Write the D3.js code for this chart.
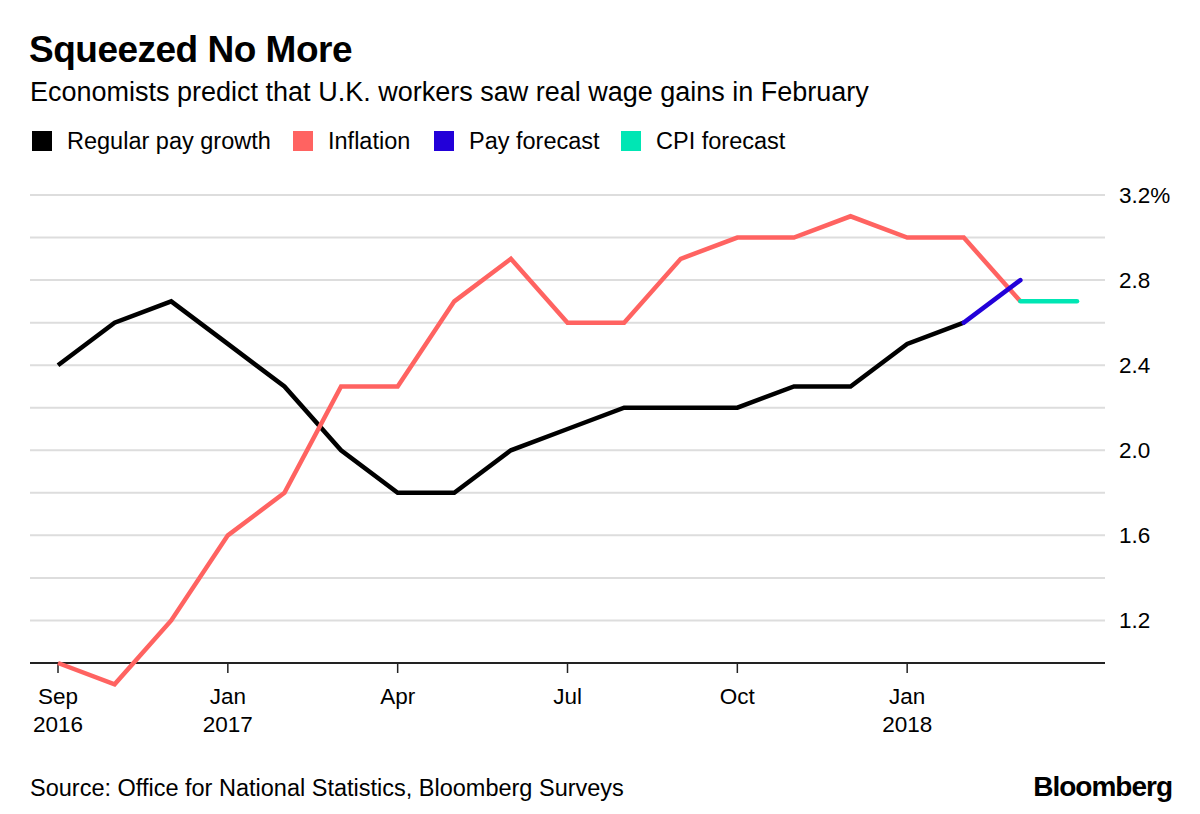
<!DOCTYPE html>
<html>
<head>
<meta charset="utf-8">
<script src="https://cdn.jsdelivr.net/npm/d3@7"></script>
<style>
  html, body { margin: 0; padding: 0; background: #fff; }
  svg { display: block; font-family: "Liberation Sans", Arial, Helvetica, sans-serif; }
</style>
</head>
<body>
<svg id="chart" width="1200" height="814"></svg>
<script>
// ---- Data ----
const monthIndex = d3.range(0, 19); // Sep 2016 ... Mar 2018 slots
const payGrowth = [2.4, 2.6, 2.7, 2.5, 2.3, 2.0, 1.8, 1.8, 2.0, 2.1, 2.2, 2.2, 2.2, 2.3, 2.3, 2.5, 2.6];
const inflation = [1.0, 0.9, 1.2, 1.6, 1.8, 2.3, 2.3, 2.7, 2.9, 2.6, 2.6, 2.9, 3.0, 3.0, 3.1, 3.0, 3.0, 2.7];
const payForecast = [[16, 2.6], [17, 2.8]];
const cpiForecast = [[17, 2.7], [18, 2.7]];
const xTickIdx = [0, 3, 6, 9, 12, 15];
const xTickLabels = [["Sep", "2016"], ["Jan", "2017"], ["Apr", ""], ["Jul", ""], ["Oct", ""], ["Jan", "2018"]];
const yGrid = [1.2, 1.4, 1.6, 1.8, 2.0, 2.2, 2.4, 2.6, 2.8, 3.0, 3.2];
const yLabelTicks = [1.2, 1.6, 2.0, 2.4, 2.8, 3.2];
const seriesNames = ["Regular pay growth", "Inflation", "Pay forecast", "CPI forecast"];
const seriesColors = ["#000000", "#ff6361", "#2200d9", "#00e6b4"];

// ---- Layout ----
const svg = d3.select("#chart");
const x = d3.scaleLinear().domain([0, 18]).range([58, 1077]);
const y = d3.scaleLinear().domain([1.0, 3.2]).range([663, 195]);
const plotLeft = 30, plotRight = 1105;

// Title / subtitle
svg.append("text").attr("x", 29).attr("y", 62)
  .attr("font-size", 37).attr("font-weight", "bold").attr("fill", "#000")
  .attr("letter-spacing", -0.5)
  .text("Squeezed No More");
svg.append("text").attr("x", 30).attr("y", 101)
  .attr("font-size", 27).attr("fill", "#000")
  .text("Economists predict that U.K. workers saw real wage gains in February");

// Legend
const legendX = [32, 293, 434, 621];
const lg = svg.append("g");
seriesNames.forEach((name, i) => {
  lg.append("rect").attr("x", legendX[i]).attr("y", 131).attr("width", 20).attr("height", 20)
    .attr("fill", seriesColors[i]);
  lg.append("text").attr("x", legendX[i] + 35).attr("y", 149)
    .attr("font-size", 23.5).attr("fill", "#000").text(name);
});

// Gridlines
svg.append("g").selectAll("line").data(yGrid).join("line")
  .attr("x1", plotLeft).attr("x2", plotRight)
  .attr("y1", d => y(d)).attr("y2", d => y(d))
  .attr("stroke", "#dddddd").attr("stroke-width", 2);

// Y labels
svg.append("g").selectAll("text").data(yLabelTicks).join("text")
  .attr("x", 1119).attr("y", d => y(d) + 8)
  .attr("font-size", 22.5).attr("fill", "#000")
  .text(d => d === 3.2 ? "3.2%" : d3.format(".1f")(d));

// X axis baseline
svg.append("line").attr("x1", plotLeft).attr("x2", plotRight)
  .attr("y1", y(1.0)).attr("y2", y(1.0))
  .attr("stroke", "#222").attr("stroke-width", 2);

// X ticks
const xt = svg.append("g").selectAll("g").data(xTickIdx).join("g")
  .attr("transform", d => `translate(${x(d)},0)`);
xt.append("line").attr("y1", y(1.0)).attr("y2", y(1.0) + 10)
  .attr("stroke", "#222").attr("stroke-width", 1.5);
xt.append("text").attr("y", 704).attr("text-anchor", "middle")
  .attr("font-size", 22.5).attr("fill", "#000")
  .text((d, i) => xTickLabels[i][0]);
xt.append("text").attr("y", 732).attr("text-anchor", "middle")
  .attr("font-size", 22.5).attr("fill", "#000")
  .text((d, i) => xTickLabels[i][1]);

// Lines
const line = d3.line().x(d => x(d[0])).y(d => y(d[1]));
const series = [
  payGrowth.map((v, i) => [monthIndex[i], v]),
  inflation.map((v, i) => [monthIndex[i], v]),
  payForecast,
  cpiForecast
];
const order = [0, 1, 3, 2];
order.forEach(i => {
  svg.append("path").datum(series[i])
    .attr("d", line).attr("fill", "none")
    .attr("stroke", seriesColors[i]).attr("stroke-width", 4.5)
    .attr("stroke-linejoin", "miter").attr("stroke-linecap", i >= 2 ? "round" : "butt");
});

// Footer
svg.append("text").attr("x", 30).attr("y", 796)
  .attr("font-size", 23.5).attr("fill", "#000")
  .text("Source: Office for National Statistics, Bloomberg Surveys");
svg.append("text").attr("x", 1172).attr("y", 796).attr("text-anchor", "end")
  .attr("font-size", 28).attr("font-weight", "bold").attr("fill", "#000")
  .attr("letter-spacing", -1)
  .text("Bloomberg");
</script>
</body>
</html>
